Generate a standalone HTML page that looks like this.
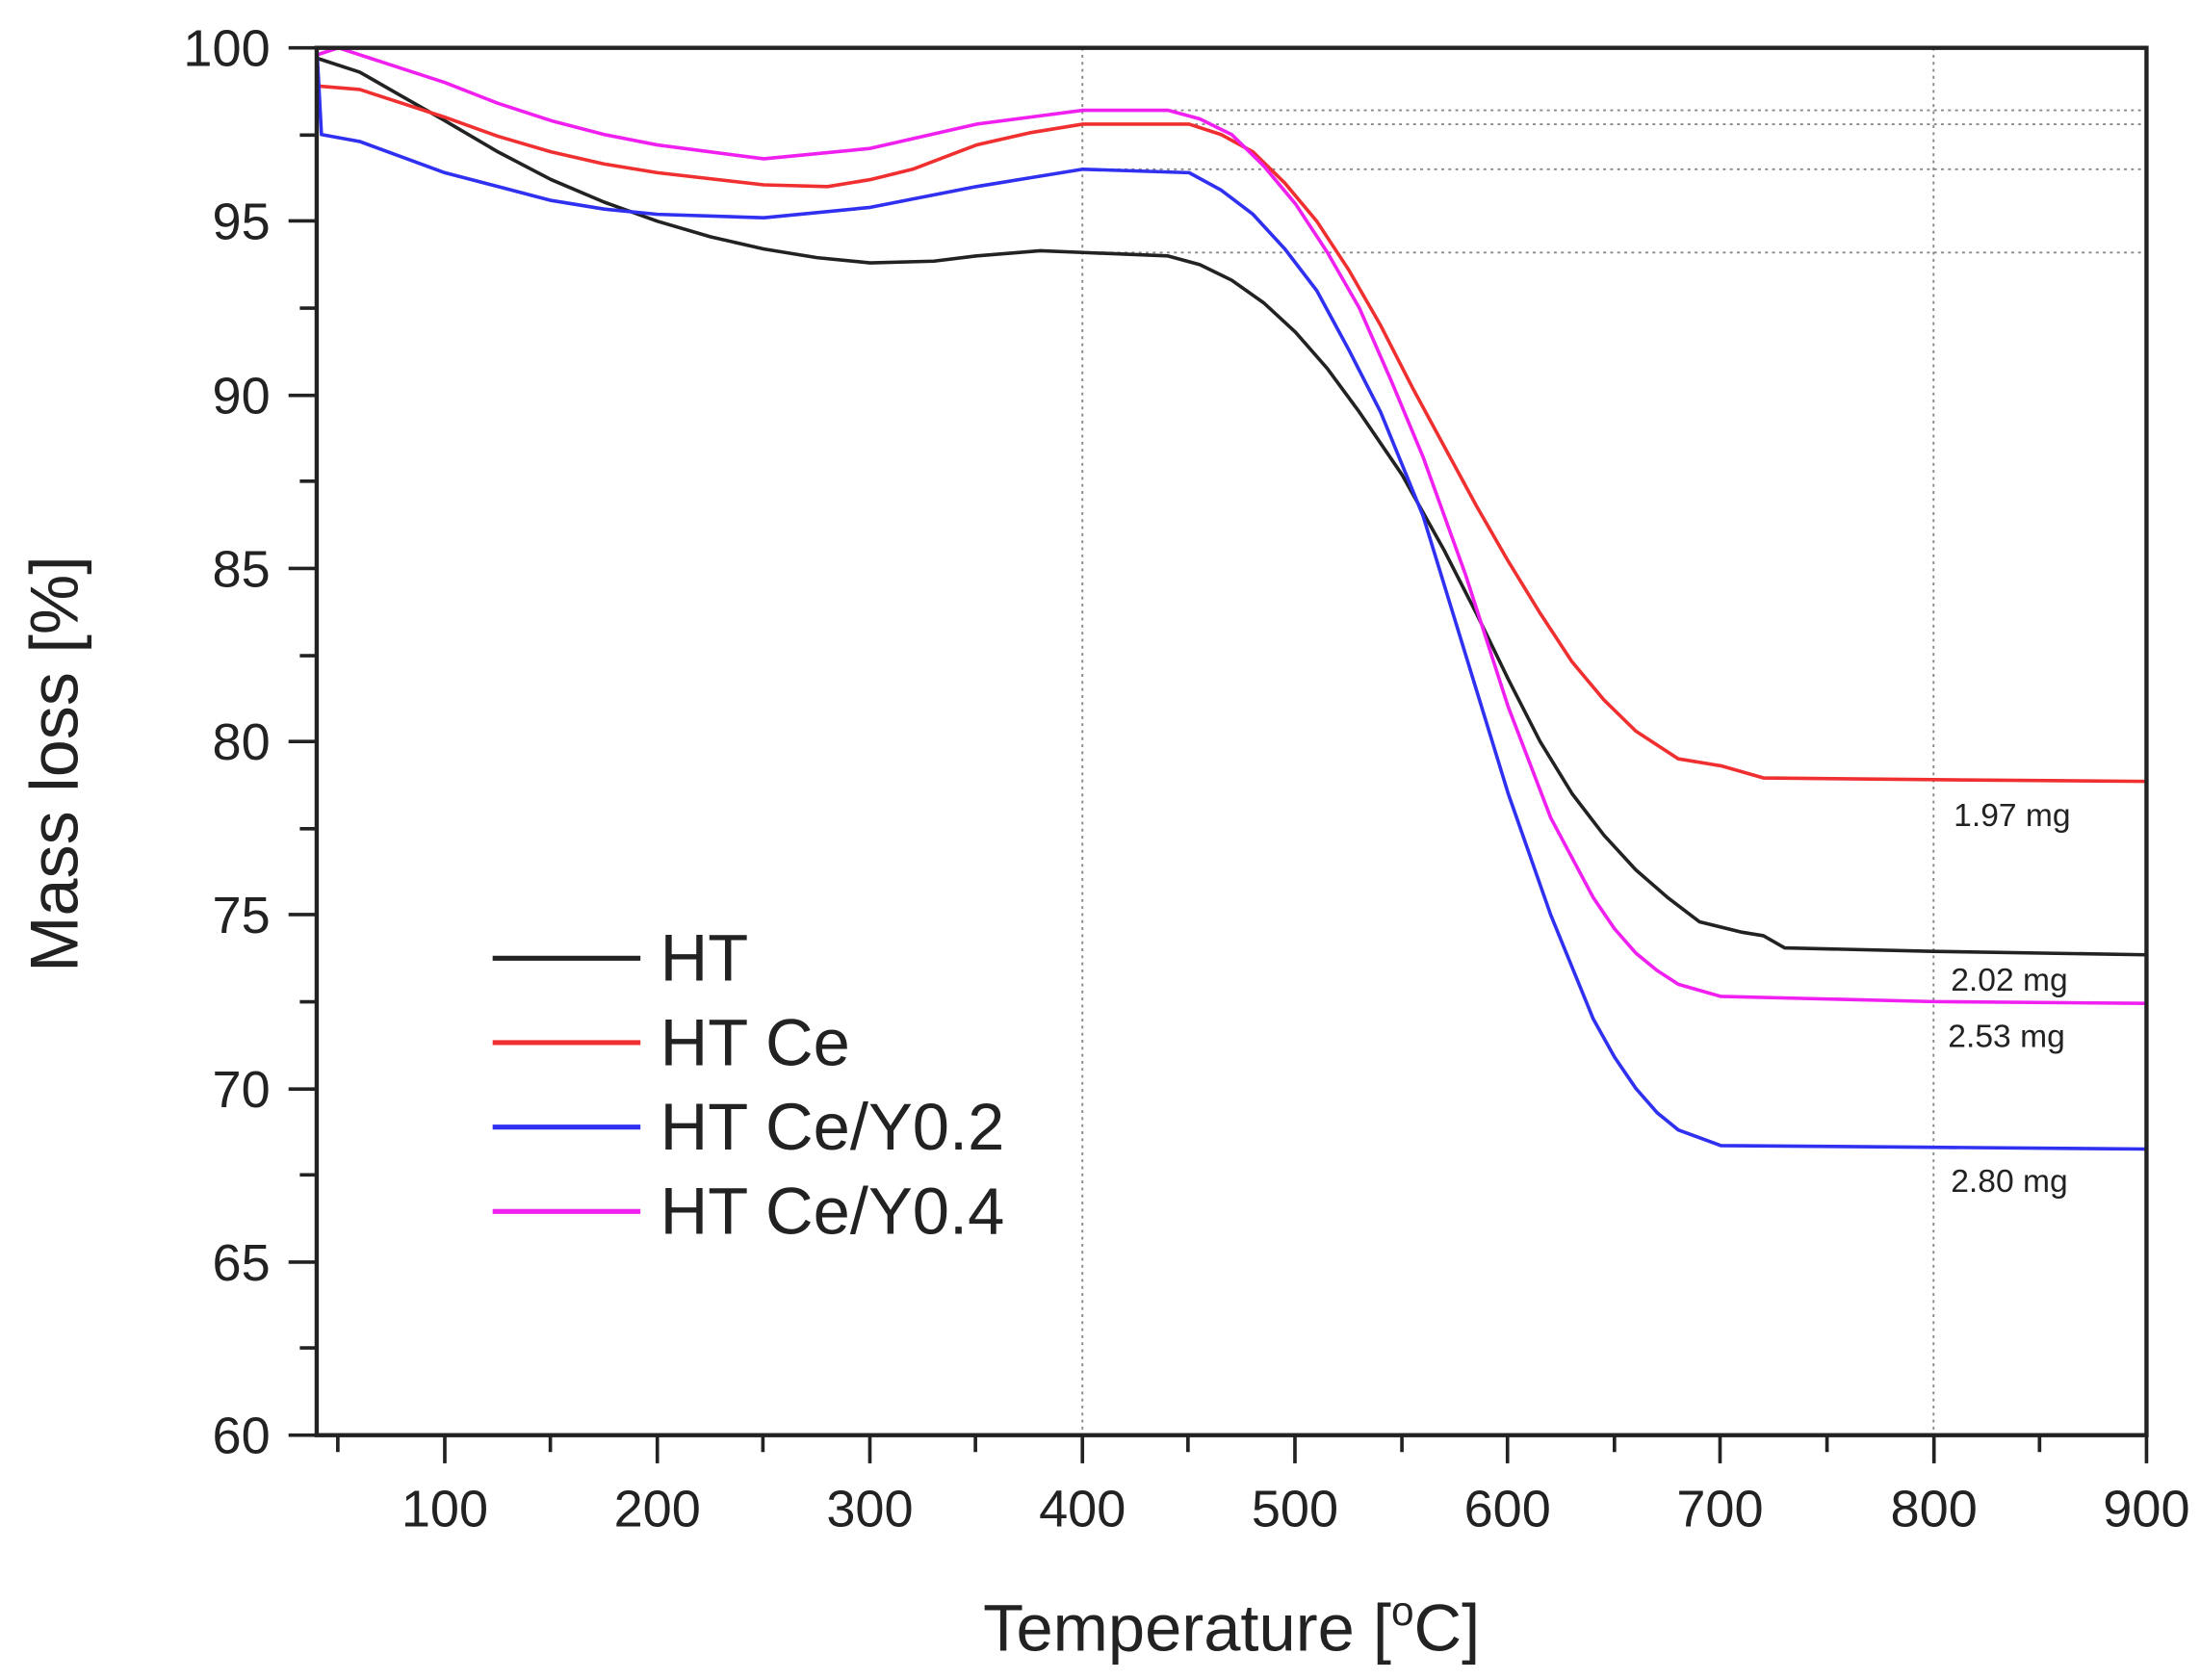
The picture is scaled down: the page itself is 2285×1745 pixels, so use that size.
<!DOCTYPE html>
<html><head><meta charset="utf-8"><style>html,body{margin:0;padding:0;background:#fff}svg{display:block}</style></head>
<body>
<svg width="2285" height="1745" viewBox="0 0 1563 1194" preserveAspectRatio="none" xmlns="http://www.w3.org/2000/svg" font-family="Liberation Sans, Arial, sans-serif">
<rect width="1563" height="1194" fill="#fff"/>
<g stroke="#888" stroke-width="1.3" stroke-dasharray="2,3" fill="none">
<line x1="769" y1="34" x2="769" y2="1020"/>
<line x1="1373.7" y1="34" x2="1373.7" y2="1020"/>
<line x1="769" y1="78.4" x2="1525" y2="78.4"/>
<line x1="769" y1="88.3" x2="1525" y2="88.3"/>
<line x1="769" y1="120.3" x2="1525" y2="120.3"/>
<line x1="769" y1="179.5" x2="1525" y2="179.5"/>
</g>
<g transform="translate(164.9,2499) scale(1.511,-24.65)" fill="none" stroke-width="3.6" stroke-linejoin="round">
<polyline vector-effect="non-scaling-stroke" stroke="#222" points="40,99.7 60,99.3 80,98.6 100,97.9 125,97.0 150,96.2 175,95.55 200,95.0 225,94.55 250,94.2 275,93.95 300,93.8 330,93.85 350,94.0 380,94.15 400,94.1 440,94.0 455,93.75 470,93.3 485,92.65 500,91.8 515,90.75 530,89.5 550,87.7 570,85.5 585,83.7 600,81.8 615,80.0 630,78.5 645,77.3 660,76.3 675,75.5 690,74.8 710,74.5 720,74.4 730,74.05 800,73.95 900,73.85"/>
<polyline vector-effect="non-scaling-stroke" stroke="#f03030" points="40,98.9 60,98.8 80,98.4 100,98.0 125,97.45 150,97.0 175,96.65 200,96.4 250,96.05 280,96.0 300,96.2 320,96.5 350,97.2 375,97.55 400,97.8 450,97.8 465,97.5 480,97.0 495,96.1 510,95.0 525,93.6 540,92.0 555,90.2 570,88.5 585,86.8 600,85.2 615,83.7 630,82.3 645,81.2 660,80.3 680,79.5 700,79.3 720,78.95 800,78.9 900,78.85"/>
<polyline vector-effect="non-scaling-stroke" stroke="#3030f0" points="40,99.8 42,97.5 60,97.3 80,96.85 100,96.4 125,96.0 150,95.6 175,95.35 200,95.2 250,95.1 300,95.4 350,96.0 375,96.25 400,96.5 450,96.4 465,95.9 480,95.2 495,94.2 510,93.0 525,91.3 540,89.5 560,86.5 580,82.5 600,78.5 620,75.0 640,72.0 650,70.9 660,70.0 670,69.3 680,68.8 700,68.35 800,68.3 900,68.25"/>
<polyline vector-effect="non-scaling-stroke" stroke="#f020f0" points="40,99.8 50,100 75,99.5 100,99.0 125,98.4 150,97.9 175,97.5 200,97.2 250,96.8 300,97.1 350,97.8 375,98.0 400,98.2 440,98.2 455,97.95 470,97.5 485,96.6 500,95.5 515,94.1 530,92.5 545,90.4 560,88.2 580,84.8 600,81.0 620,77.8 640,75.5 650,74.6 660,73.9 670,73.4 680,73.0 700,72.65 800,72.5 900,72.45"/>
</g>
<rect x="225" y="34" width="1300" height="986" fill="none" stroke="#222" stroke-width="3"/>
<g stroke="#222" stroke-width="2.5">
<line x1="316" y1="1020" x2="316" y2="1040"/><line x1="467" y1="1020" x2="467" y2="1040"/><line x1="618" y1="1020" x2="618" y2="1040"/><line x1="769" y1="1020" x2="769" y2="1040"/><line x1="920" y1="1020" x2="920" y2="1040"/><line x1="1071" y1="1020" x2="1071" y2="1040"/><line x1="1222" y1="1020" x2="1222" y2="1040"/><line x1="1374" y1="1020" x2="1374" y2="1040"/><line x1="1525" y1="1020" x2="1525" y2="1040"/>
<line x1="240" y1="1020" x2="240" y2="1032"/><line x1="391" y1="1020" x2="391" y2="1032"/><line x1="542" y1="1020" x2="542" y2="1032"/><line x1="693" y1="1020" x2="693" y2="1032"/><line x1="844" y1="1020" x2="844" y2="1032"/><line x1="996" y1="1020" x2="996" y2="1032"/><line x1="1147" y1="1020" x2="1147" y2="1032"/><line x1="1298" y1="1020" x2="1298" y2="1032"/><line x1="1449" y1="1020" x2="1449" y2="1032"/>
<line x1="205" y1="34" x2="225" y2="34"/><line x1="205" y1="157" x2="225" y2="157"/><line x1="205" y1="281" x2="225" y2="281"/><line x1="205" y1="404" x2="225" y2="404"/><line x1="205" y1="527" x2="225" y2="527"/><line x1="205" y1="650" x2="225" y2="650"/><line x1="205" y1="774" x2="225" y2="774"/><line x1="205" y1="897" x2="225" y2="897"/><line x1="205" y1="1020" x2="225" y2="1020"/>
<line x1="213" y1="96" x2="225" y2="96"/><line x1="213" y1="219" x2="225" y2="219"/><line x1="213" y1="342" x2="225" y2="342"/><line x1="213" y1="466" x2="225" y2="466"/><line x1="213" y1="589" x2="225" y2="589"/><line x1="213" y1="712" x2="225" y2="712"/><line x1="213" y1="835" x2="225" y2="835"/><line x1="213" y1="958" x2="225" y2="958"/>
</g>
<g font-size="37" fill="#222" text-anchor="middle">
<text x="316" y="1085">100</text><text x="467" y="1085">200</text><text x="618" y="1085">300</text><text x="769" y="1085">400</text><text x="920" y="1085">500</text><text x="1071" y="1085">600</text><text x="1222" y="1085">700</text><text x="1374" y="1085">800</text><text x="1525" y="1085">900</text>
</g>
<g font-size="37" fill="#222" text-anchor="end">
<text x="192" y="47">100</text><text x="192" y="170">95</text><text x="192" y="294">90</text><text x="192" y="417">85</text><text x="192" y="540">80</text><text x="192" y="663">75</text><text x="192" y="787">70</text><text x="192" y="910">65</text><text x="192" y="1033">60</text>
</g>
<text x="875" y="1173" font-size="47" fill="#222" text-anchor="middle">Temperature [<tspan dy="-18" font-size="29">o</tspan><tspan dy="18">C]</tspan></text>
<text transform="translate(55,543) rotate(-90)" font-size="48" fill="#222" text-anchor="middle">Mass loss [%]</text>
<g stroke-width="3.5">
<line x1="350" y1="681" x2="455" y2="681" stroke="#222"/>
<line x1="350" y1="741" x2="455" y2="741" stroke="#f03030"/>
<line x1="350" y1="801" x2="455" y2="801" stroke="#3030f0"/>
<line x1="350" y1="861" x2="455" y2="861" stroke="#f020f0"/>
</g>
<g font-size="47" fill="#222">
<text x="469" y="697">HT</text><text x="469" y="757">HT Ce</text><text x="469" y="817">HT Ce/Y0.2</text><text x="469" y="877">HT Ce/Y0.4</text>
</g>
<g font-size="23" fill="#222">
<text x="1388" y="587">1.97 mg</text><text x="1386" y="704">2.02 mg</text><text x="1384" y="744">2.53 mg</text><text x="1386" y="847">2.80 mg</text>
</g>
</svg>
</body></html>
